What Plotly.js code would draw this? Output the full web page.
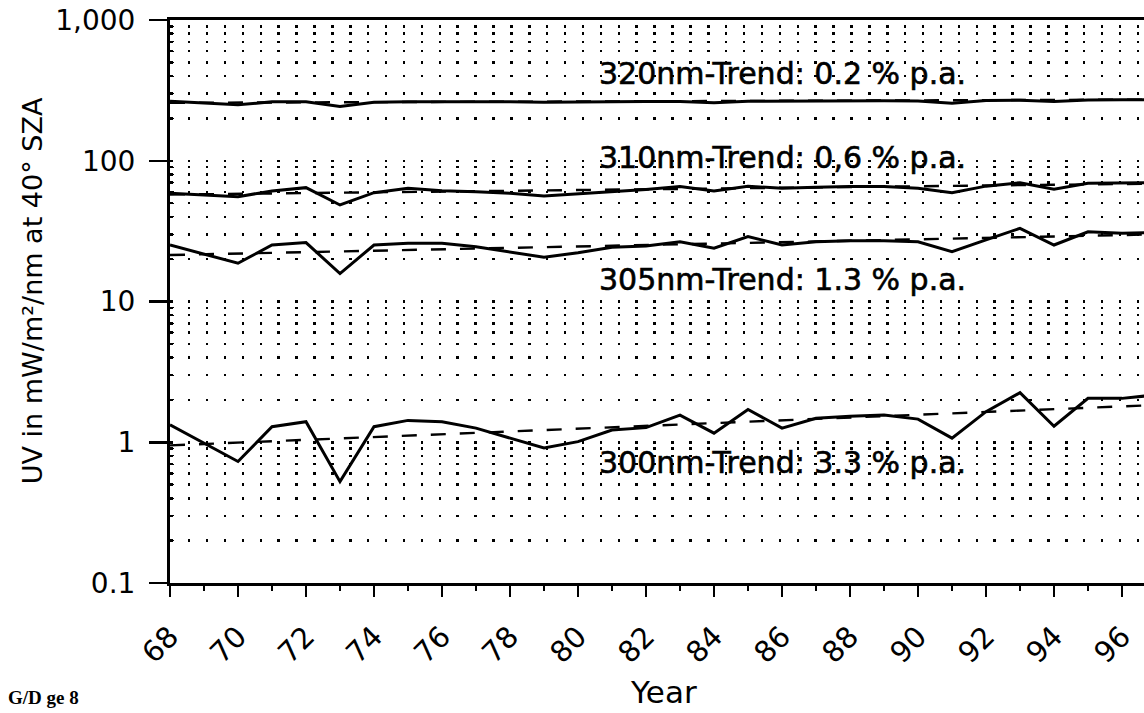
<!DOCTYPE html>
<html>
<head>
<meta charset="utf-8">
<script src="https://cdn.plot.ly/plotly-3.0.1.min.js"></script>
<style>
  html, body { margin: 0; padding: 0; background: #fff; overflow: hidden; width: 1144px; height: 713px; }
  #chart { width: 1156px; height: 713px; }
  .trendlabel { stroke: #000; stroke-width: 0.6px; }
</style>
</head>
<body>
<div id="chart"></div>
<script>
// ---- data ----
const years = [68, 69, 70, 71, 72, 73, 74, 75, 76, 77, 78, 79, 80, 81, 82,
               83, 84, 85, 86, 87, 88, 89, 90, 91, 92, 93, 94, 95, 96, 97];

const uv320 = [265, 258, 250, 262, 263, 243, 260, 262, 263, 263, 262, 260, 262, 263, 264,
               264, 258, 265, 266, 266, 266, 267, 266, 256, 268, 269, 264, 270, 271, 271];

const uv310 = [58.7, 57.0, 55.6, 61.0, 64.4, 48.5, 59.3, 63.7, 61.3, 60.2, 58.7, 56.2, 58.0, 60.2, 62.5,
               65.5, 61.0, 66.0, 63.7, 64.7, 65.5, 65.5, 63.7, 59.3, 66.0, 69.8, 62.7, 69.2, 69.8, 70.0];

const uv305 = [25.2, 21.8, 18.7, 25.2, 26.2, 15.8, 25.2, 25.9, 25.9, 24.5, 22.6, 20.6, 22.2, 24.3, 24.8,
               26.6, 23.9, 28.9, 25.2, 26.6, 27.0, 27.0, 26.6, 22.6, 27.4, 33.1, 25.2, 31.3, 30.5, 31.0];

const uv300 = [1.33, 0.99, 0.73, 1.29, 1.40, 0.525, 1.29, 1.43, 1.40, 1.26, 1.07, 0.91, 1.01, 1.22, 1.27,
               1.56, 1.16, 1.71, 1.26, 1.48, 1.53, 1.56, 1.46, 1.07, 1.65, 2.25, 1.30, 2.05, 2.05, 2.17];

const trendYears = [68, 97];
const trend320 = [258, 272];
const trend310 = [57.5, 68.8];
const trend305 = [21.4, 30.0];
const trend300 = [0.95, 1.84];

const labels = [
  {text: "320nm-Trend: 0.2 % p.a.", x: 80.55, y: 420},
  {text: "310nm-Trend: 0,6 % p.a.", x: 80.55, y: 106},
  {text: "305nm-Trend: 1.3 % p.a.", x: 80.55, y: 14.3},
  {text: "300nm-Trend: 3.3 % p.a.", x: 80.55, y: 0.72}
];

const xTickVals = [68, 70, 72, 74, 76, 78, 80, 82, 84, 86, 88, 90, 92, 94, 96];
const xTickText = ["68", "70", "72", "74", "76", "78", "80", "82", "84", "86", "88", "90", "92", "94", "96"];
const yTickVals = [0.1, 1, 10, 100, 1000];
const yTickText = ["0.1", "1", "10", "100", "1,000"];

// ---- chart ----
const solid = {color: "#000", width: 3};
const dashed = {color: "#000", width: 2.4, dash: "15px,14px"};

function sTrace(y) { return {x: years, y: y, type: "scatter", mode: "lines", line: solid, hoverinfo: "skip"}; }
function dTrace(y) { return {x: trendYears, y: y, type: "scatter", mode: "lines", line: dashed, hoverinfo: "skip"}; }

const traces = [
  dTrace(trend320), sTrace(uv320),
  dTrace(trend310), sTrace(uv310),
  dTrace(trend305), sTrace(uv305),
  dTrace(trend300), sTrace(uv300)
];

// minor log positions 2..9 in each decade (axis configuration)
const minorVals = [];
for (let e = -1; e < 3; e++) for (let d = 2; d <= 9; d++) minorVals.push(d * Math.pow(10, e));

const sans = "DejaVu Sans, Verdana, sans-serif";

const annotations = labels.map(l => ({
  text: l.text, x: l.x, y: Math.log10(l.y), xref: "x", yref: "y",
  xanchor: "left", yanchor: "middle", showarrow: false,
  font: {family: sans, size: 30, color: "#000"}
}));

annotations.push({
  text: "UV in mW/m²/nm at 40° SZA", textangle: -90,
  xref: "paper", yref: "paper", x: -0.140, y: 0.520, xanchor: "center", yanchor: "middle",
  showarrow: false, font: {family: sans, size: 27, color: "#000"}
});
annotations.push({
  text: "Year", xref: "paper", yref: "paper", x: 0.5, y: -0.229, xanchor: "center", yanchor: "bottom",
  showarrow: false, font: {family: sans, size: 31, color: "#000"}
});
annotations.push({
  text: "<b>G/D ge 8</b>", xref: "paper", yref: "paper", x: -0.166, y: -0.2255, xanchor: "left", yanchor: "bottom",
  showarrow: false, font: {family: "Liberation Serif, serif", size: 19, color: "#000"}
});

const layout = {
  width: 1156, height: 713,
  margin: {l: 170, r: 0, t: 20, b: 130},
  paper_bgcolor: "#fff", plot_bgcolor: "#fff",
  showlegend: false,
  xaxis: {
    range: [68, 97], tickmode: "array", tickvals: xTickVals, ticktext: xTickText,
    tickangle: -45, tickfont: {family: sans, size: 29, color: "#000"}, ticklabelstandoff: 11,
    ticks: "outside", ticklen: 11, tickwidth: 2, tickcolor: "#000",
    minor: {dtick: 1, ticks: "outside", ticklen: 5, tickwidth: 1.5, tickcolor: "#000", showgrid: false},
    showline: true, linewidth: 3, linecolor: "#000", mirror: true,
    showgrid: false, zeroline: false, fixedrange: true
  },
  yaxis: {
    type: "log", range: [-1, 3], tickmode: "array", tickvals: yTickVals, ticktext: yTickText,
    tickfont: {family: sans, size: 28, color: "#000"},
    ticks: "outside", ticklen: 18, tickwidth: 2.5, tickcolor: "#000", ticklabelstandoff: 8,
    showline: true, linewidth: 3, linecolor: "#000",
    showgrid: true, gridcolor: "#000", gridwidth: 2.5, griddash: "2.5px,15.4px",
    minor: {tickmode: "array", tickvals: minorVals, ticks: "inside", ticklen: 4, tickwidth: 1, tickcolor: "#000",
            showgrid: true, gridcolor: "#000", gridwidth: 2.5, griddash: "2.5px,15.4px"},
    zeroline: false, fixedrange: true
  },
  annotations: annotations
};

Plotly.newPlot("chart", traces, layout, {displayModeBar: false, staticPlot: true}).then(function (gd) {
  const groups = gd.querySelectorAll(".annotation");
  for (let i = 0; i < labels.length && i < groups.length; i++) {
    groups[i].querySelectorAll("text").forEach(t => t.classList.add("trendlabel"));
  }
});
</script>
</body>
</html>
